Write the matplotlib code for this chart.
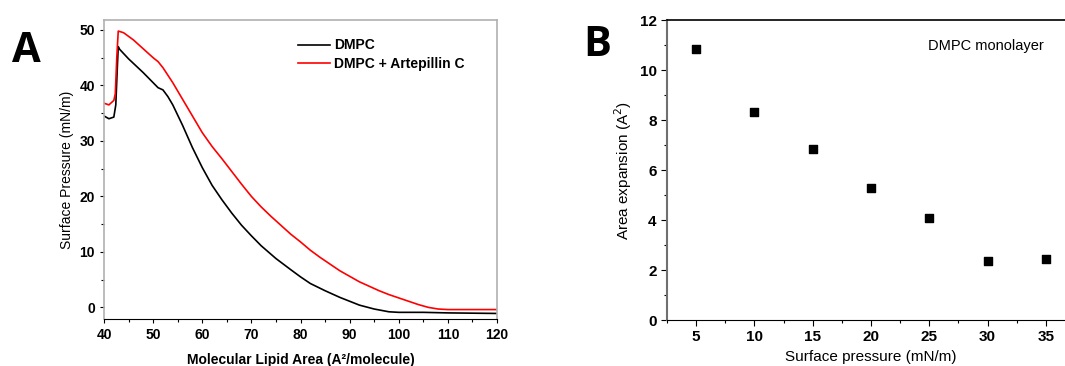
import numpy as np
from matplotlib import pyplot as plt
from matplotlib.ticker import MultipleLocator

plt.rcParams['font.family'] = ['Liberation Sans', 'DejaVu Sans']

# Panel A: surface pressure isotherms
area_dmpc = [40, 41, 42, 42.4, 42.7, 42.9, 43.2, 45, 48, 50, 51, 52, 53, 54, 56, 58,
             60, 62, 64, 66, 68, 70, 72, 75, 78, 80, 82, 85, 88, 90, 92, 95, 98,
             100, 105, 110, 120]
pi_dmpc = [34.5, 34.0, 34.3, 36.5, 43.0, 47.0, 46.5, 44.8, 42.3, 40.5, 39.6, 39.2,
           38.0, 36.5, 32.8, 28.8, 25.2, 22.0, 19.4, 17.0, 14.8, 12.9, 11.1, 8.8,
           6.8, 5.5, 4.3, 3.0, 1.8, 1.1, 0.4, -0.3, -0.8, -0.9, -0.9, -1.0, -1.1]

area_artc = [40, 41, 42, 42.3, 42.6, 42.9, 43.3, 44, 46, 48, 50, 51, 52, 54, 56, 58,
             60, 62, 64, 66, 68, 70, 72, 74, 76, 78, 80, 82, 84, 86, 88, 90, 92, 94,
             96, 98, 100, 102, 104, 106, 108, 110, 120]
pi_artc = [36.8, 36.5, 37.3, 38.5, 45.0, 49.8, 49.7, 49.5, 48.2, 46.6, 45.0, 44.3,
           43.2, 40.5, 37.5, 34.5, 31.5, 29.0, 26.8, 24.5, 22.2, 20.0, 18.1, 16.4,
           14.8, 13.2, 11.8, 10.3, 9.0, 7.8, 6.6, 5.6, 4.6, 3.8, 3.0, 2.3, 1.7, 1.1,
           0.5, 0.0, -0.3, -0.4, -0.4]

# Panel B: area expansion
pressure = [5, 10, 15, 20, 25, 30, 35]
expansion = [10.85, 8.3, 6.85, 5.28, 4.1, 2.35, 2.45]

fig = plt.figure(figsize=(10.65, 3.66), dpi=100)

# ---- panel A ----
ax1 = fig.add_axes([104 / 1065, 1 - 319 / 366, 393 / 1065, 299 / 366])
ax1.plot(area_dmpc, pi_dmpc, color='black', lw=1.2, label='DMPC')
ax1.plot(area_artc, pi_artc, color='#ff0000', lw=1.2, label='DMPC + Artepillin C')
ax1.set_xlim(40, 120)
ax1.set_ylim(-2.1, 51.8)
ax1.xaxis.set_major_locator(MultipleLocator(10))
ax1.xaxis.set_minor_locator(MultipleLocator(5))
ax1.yaxis.set_major_locator(MultipleLocator(10))
ax1.yaxis.set_minor_locator(MultipleLocator(5))
ax1.tick_params(which='both', direction='out', length=3, width=0.8,
                labelsize=10, top=False, right=False)
ax1.tick_params(which='minor', length=2)
for lab in ax1.get_xticklabels() + ax1.get_yticklabels():
    lab.set_fontweight('bold')
for s in ['top', 'right', 'left']:
    ax1.spines[s].set_color('#b0b0b0')
    ax1.spines[s].set_linewidth(1.2)
ax1.spines['bottom'].set_color('black')
ax1.set_ylabel('Surface Pressure (mN/m)', fontsize=10)
ax1.set_xlabel('Molecular Lipid Area (A\u00b2/molecule)', fontsize=10,
               fontweight='bold', labelpad=8)
leg = ax1.legend(loc='upper right', bbox_to_anchor=(0.95, 0.98), frameon=False,
                 handlelength=2.3, handletextpad=0.3, labelspacing=0.3,
                 prop={'weight': 'bold', 'size': 10})
fig.text(12 / 1065, 1 - 62 / 366, 'A', fontsize=30, fontweight='bold',
         family=['Open Sans', 'DejaVu Sans'])

# ---- panel B ----
ax2 = fig.add_axes([667 / 1065, 1 - 320 / 366, 408 / 1065, 300 / 366])
ax2.scatter(pressure, expansion, marker='s', s=36, color='black', zorder=3)
ax2.set_xlim(2.5, 37.5)
ax2.set_ylim(0, 12)
ax2.xaxis.set_major_locator(MultipleLocator(5))
ax2.xaxis.set_minor_locator(MultipleLocator(2.5))
ax2.yaxis.set_major_locator(MultipleLocator(2))
ax2.yaxis.set_minor_locator(MultipleLocator(1))
ax2.tick_params(which='both', direction='out', length=4, width=0.8,
                labelsize=11, top=False, right=False)
ax2.tick_params(which='minor', length=2.5)
for lab in ax2.get_xticklabels() + ax2.get_yticklabels():
    lab.set_fontweight('bold')
ax2.spines['left'].set_color('#707070')
ax2.spines['left'].set_linewidth(1.5)
ax2.spines['right'].set_visible(False)
ax2.spines['top'].set_linewidth(1.2)
ax2.set_ylabel('Area expansion (A$^2$)', fontsize=11)
ax2.set_xlabel('Surface pressure (mN/m)', fontsize=11, labelpad=4)
ax2.text(0.64, 0.9, 'DMPC monolayer', transform=ax2.transAxes, fontsize=10.5)
fig.text(583 / 1065, 1 - 56 / 366, 'B', fontsize=30, fontweight='bold',
         family=['Open Sans', 'DejaVu Sans'])

fig.savefig('out.png', dpi=100)
